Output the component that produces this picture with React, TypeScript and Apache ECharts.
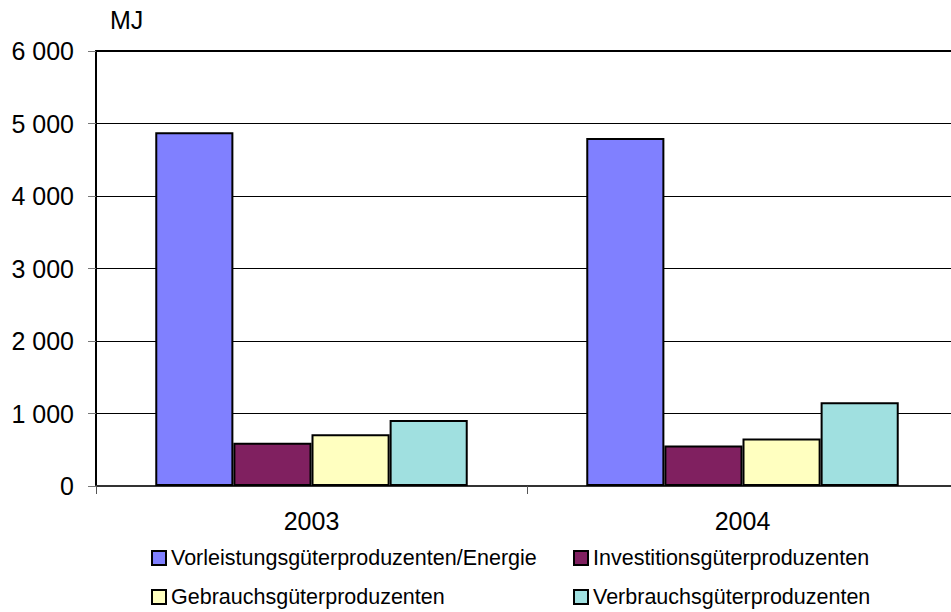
import React, { useEffect, useRef } from "react";
import * as echarts from "echarts";

const categories = ["2003", "2004"];
const seriesNames = [
  "Vorleistungsgüterproduzenten/Energie",
  "Investitionsgüterproduzenten",
  "Gebrauchsgüterproduzenten",
  "Verbrauchsgüterproduzenten",
];
const vorleistung = [4880, 4800];
const investition = [595, 560];
const gebrauch = [715, 655];
const verbrauch = [910, 1155];
const seriesColors = ["#8080FF", "#802060", "#FFFFC0", "#A0E0E0"];
const unitLabel = "MJ";

const FONT = "Liberation Sans, Arial, sans-serif";

export default function App() {
  const ref = useRef<HTMLDivElement>(null);
  useEffect(() => {
    if (!ref.current) return;
    const chart = echarts.init(ref.current, null, { renderer: "svg" });
    const values = [vorleistung, investition, gebrauch, verbrauch];
    const legendText = { fontSize: 21.5, fontFamily: FONT, color: "#000" };
    chart.setOption({
      animation: false,
      backgroundColor: "#ffffff",
      textStyle: { fontFamily: FONT },
      grid: {
        left: 96,
        top: 51,
        right: -7,
        bottom: 126,
        containLabel: false,
        outerBoundsMode: "none",
      },
      graphic: [
        {
          type: "text",
          left: 110,
          top: 7,
          style: { text: unitLabel, font: `25px ${FONT}`, fill: "#000" },
        },
      ],
      legend: [
        {
          data: [seriesNames[0], seriesNames[2]],
          orient: "vertical",
          left: 151,
          top: 547,
          itemWidth: 14,
          itemHeight: 14,
          itemGap: 17,
          padding: 0,
          textStyle: legendText,
          icon: "rect",
        },
        {
          data: [seriesNames[1], seriesNames[3]],
          orient: "vertical",
          left: 573,
          top: 547,
          itemWidth: 14,
          itemHeight: 14,
          itemGap: 17,
          padding: 0,
          textStyle: legendText,
          icon: "rect",
        },
      ],
      xAxis: [
        {
          type: "category",
          data: categories,
          axisLine: { lineStyle: { color: "#333", width: 2 } },
          axisTick: { show: true, length: 8, lineStyle: { color: "#555" }, alignWithLabel: false },
          axisLabel: { fontSize: 25, color: "#000", margin: 22, fontFamily: FONT },
          splitLine: { show: false },
        },
        {
          type: "category",
          position: "top",
          data: categories,
          axisLine: { show: true, lineStyle: { color: "#000", width: 2 } },
          axisTick: { show: false },
          axisLabel: { show: false },
          splitLine: { show: false },
        },
      ],
      yAxis: {
        type: "value",
        min: 0,
        max: 6000,
        interval: 1000,
        axisLine: { show: true, lineStyle: { color: "#000", width: 2 } },
        axisTick: { show: true, length: 8, lineStyle: { color: "#777" } },
        axisLabel: {
          fontSize: 25,
          color: "#000",
          margin: 22,
          fontFamily: FONT,
          formatter: (v: number) =>
            v === 0 ? "0" : String(v).replace(/\B(?=(\d{3})+(?!\d))/g, " "),
        },
        splitLine: { show: true, lineStyle: { color: "#000", width: 1 } },
      },
      series: seriesNames.map((name, i) => ({
        name,
        type: "bar",
        xAxisIndex: 0,
        data: values[i],
        barGap: "0%",
        barCategoryGap: "27.5%",
        itemStyle: { color: seriesColors[i], borderColor: "#000", borderWidth: 2 },
      })),
    });
    return () => chart.dispose();
  }, []);
  return <div ref={ref} style={{ width: 951, height: 612, position: "absolute", left: 0, top: 0 }} />;
}
